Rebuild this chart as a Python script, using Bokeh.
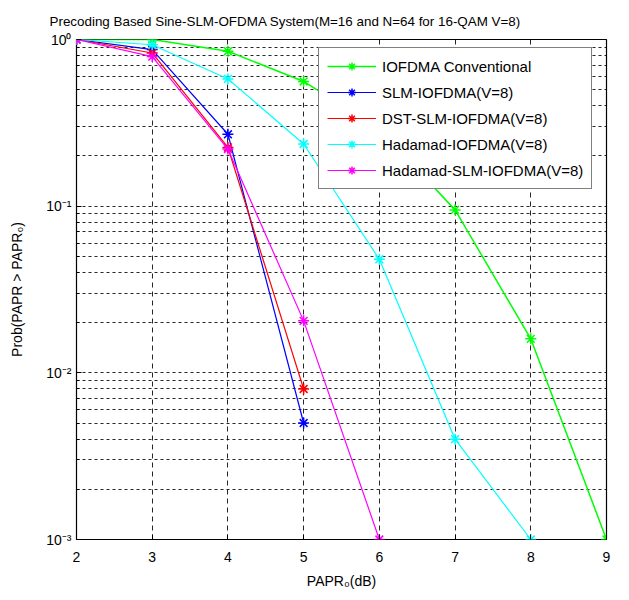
from bokeh.plotting import figure
from bokeh.models import (FixedTicker, CustomJSTickFormatter, Legend, LegendItem,
                          Range1d, Title)
from bokeh.embed import file_html
from bokeh.resources import INLINE

# ---- data ----
papr_conv = [2, 3, 4, 5, 6, 7, 8, 9]
ccdf_conv = [1.0, 1.0, 0.85, 0.56, 0.29, 0.095, 0.016, 0.001]

papr_slm = [2, 3, 4, 5]
ccdf_slm = [1.0, 0.87, 0.27, 0.005]

papr_dst = [2, 3, 4, 5]
ccdf_dst = [1.0, 0.83, 0.225, 0.008]

papr_had = [2, 3, 4, 5, 6, 7, 8]
ccdf_had = [1.0, 0.93, 0.58, 0.236, 0.048, 0.004, 0.001]

papr_hadslm = [2, 3, 4, 5, 6]
ccdf_hadslm = [1.0, 0.79, 0.22, 0.0205, 0.001]

series_names = ["IOFDMA Conventional", "SLM-IOFDMA(V=8)", "DST-SLM-IOFDMA(V=8)",
                "Hadamad-IOFDMA(V=8)", "Hadamad-SLM-IOFDMA(V=8)"]
series_colors = ["#00ff00", "#0000ff", "#ff0000", "#00ffff", "#ff00ff"]

x_ticks = [2, 3, 4, 5, 6, 7, 8, 9]
y_decades = [0.001, 0.01, 0.1, 1.0]
y_minor = [k * d for d in [0.001, 0.01, 0.1] for k in range(2, 10)]

title_text = "Precoding Based Sine-SLM-OFDMA System(M=16 and N=64 for 16-QAM V=8)"
x_label = "PAPR\u2080(dB)"
y_label = "Prob(PAPR > PAPR\u2080)"

FONT = "Liberation Sans"

p = figure(width=620, height=591, y_axis_type="log",
           x_range=Range1d(2, 9), y_range=Range1d(0.001, 1.0),
           output_backend="svg", toolbar_location=None,
           min_border_left=76, min_border_right=14, min_border_top=39,
           min_border_bottom=49)
p.background_fill_color = "white"
p.border_fill_color = "white"
p.outline_line_color = "black"
p.outline_line_width = 1.2

p.title = Title(text=title_text, align="left", offset=-27,
                text_font=FONT, text_font_size="13.4px", text_font_style="normal",
                text_color="black", standoff=22)

# axes
xax = p.xaxis[0]
xax.ticker = FixedTicker(ticks=x_ticks)
xax.axis_label = x_label
yax = p.yaxis[0]
yax.ticker = FixedTicker(ticks=y_decades, minor_ticks=y_minor)
yax.formatter = CustomJSTickFormatter(code="""
const e = Math.round(Math.log10(tick));
const sup = {'-':'\u207b','0':'\u2070','1':'\u00b9','2':'\u00b2','3':'\u00b3'};
return '10' + String(e).split('').map(c => sup[c]).join('');
""")
yax.axis_label = y_label

for ax in (xax, yax):
    ax.axis_line_color = None
    ax.major_tick_in = 5
    ax.major_tick_out = 0
    ax.minor_tick_in = 3
    ax.minor_tick_out = 0
    ax.major_tick_line_color = "black"
    ax.minor_tick_line_color = "black"
    ax.major_label_text_font = FONT
    ax.major_label_text_font_size = "14px"
    ax.major_label_text_color = "black"
    ax.axis_label_text_font = FONT
    ax.axis_label_text_font_size = "14px"
    ax.axis_label_text_font_style = "normal"
    ax.axis_label_text_color = "black"
xax.major_label_standoff = 12
xax.axis_label_standoff = 8
yax.major_label_standoff = 5
yax.axis_label_standoff = 18

# grids
p.xgrid.ticker = FixedTicker(ticks=x_ticks)
p.xgrid.grid_line_color = "black"
p.xgrid.grid_line_dash = "5 4"
p.xgrid.grid_line_alpha = 0.85
p.ygrid.grid_line_color = "black"
p.ygrid.grid_line_dash = "3 3"
p.ygrid.grid_line_alpha = 0.85
p.ygrid.minor_grid_line_color = "black"
p.ygrid.minor_grid_line_dash = "3 3"
p.ygrid.minor_grid_line_alpha = 0.85

xs = [papr_conv, papr_slm, papr_dst, papr_had, papr_hadslm]
ys = [ccdf_conv, ccdf_slm, ccdf_dst, ccdf_had, ccdf_hadslm]

items = []
for name, col, x, y in zip(series_names, series_colors, xs, ys):
    lw = 1.5 if name == series_names[0] else 1.2
    r1 = p.line(x, y, line_color=col, line_width=lw)
    r2 = p.scatter(x, y, marker="asterisk", size=11, line_color=col, line_width=1.5)
    items.append(LegendItem(label=name, renderers=[r1, r2]))

legend = Legend(items=items, location=(242, 350), margin=0,
                border_line_color="black", border_line_width=1.2,
                background_fill_color="white", background_fill_alpha=1.0,
                label_text_font=FONT, label_text_font_size="15px",
                label_text_color="black",
                glyph_width=49, glyph_height=20, label_height=20,
                label_standoff=6, padding=8, spacing=6)
p.add_layout(legend, "center")

open("out.html", "w").write(file_html(p, INLINE))
